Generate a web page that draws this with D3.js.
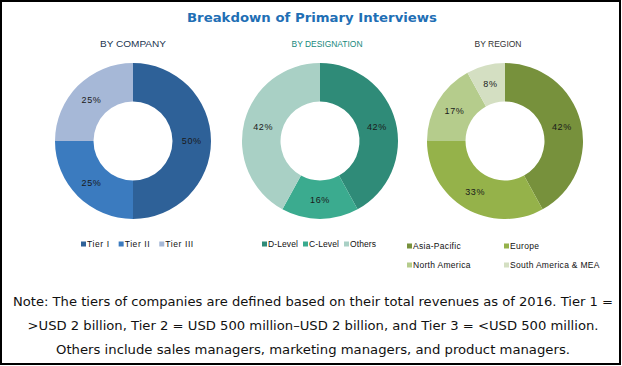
<!DOCTYPE html>
<html><head><meta charset="utf-8">
<script src="https://cdn.jsdelivr.net/npm/d3@7"></script>
<style>body{margin:0;background:#fff}svg{display:block}</style>
</head><body>
<svg id="c" width="622" height="366"></svg>
<script>
const title = "Breakdown of Primary Interviews";
const companyCats = ["Tier I", "Tier II", "Tier III"];
const companyVals = [50, 25, 25];
const designationCats = ["D-Level", "C-Level", "Others"];
const designationVals = [42, 16, 42];
const regionCats = ["Asia-Pacific", "Europe", "North America", "South America & MEA"];
const regionVals = [42, 33, 17, 8];
const noteLines = [
  "Note: The tiers of companies are defined based on their total revenues as of 2016. Tier 1 =",
  ">USD 2 billion, Tier 2 = USD 500 million\u2013USD 2 billion, and Tier 3 = <USD 500 million.",
  "Others include sales managers, marketing managers, and product managers."
];

const svg = d3.select("#c");
svg.append("rect").attr("x",1).attr("y",1).attr("width",619).attr("height",363)
  .attr("fill","#fff").attr("stroke","#000").attr("stroke-width",2);

svg.append("text").attr("x",312).attr("y",22).attr("text-anchor","middle")
  .attr("font-family","DejaVu Sans").attr("font-weight","bold").attr("font-size",12.5)
  .attr("fill","#1f6fb5").attr("textLength",250).attr("lengthAdjust","spacingAndGlyphs")
  .text(title);

const charts = [
  {sub:"BY COMPANY", subX:133, subW:66, subColor:"#22344f", cx:133, cats:companyCats, vals:companyVals,
   colors:["#2e6198","#3b7bbf","#a6b8d7"], legend:{x:81, y:244, cols:3, gap:9, ls:0.6}},
  {sub:"BY DESIGNATION", subX:327, subW:71, subColor:"#16887c", cx:320, cats:designationCats, vals:designationVals,
   colors:["#2f8b78","#3bab8f","#a9d0c5"], legend:{x:262, y:244, cols:3, gap:5, ls:0.1}},
  {sub:"BY REGION", subX:498, subW:47, subColor:"#333", cx:505, cats:regionCats, vals:regionVals,
   colors:["#77913c","#95b24a","#b5cc8c","#d4dfc2"], legend:{x:407, y:246, cols:2, colX:97, rowH:19, ls:0.3}}
];

const cy = 141, rOut = 78, rIn = 39.5;
const arc = d3.arc().innerRadius(rIn).outerRadius(rOut);
const labelArc = d3.arc().innerRadius((rIn+rOut)/2).outerRadius((rIn+rOut)/2);

charts.forEach(ch => {
  svg.append("text").attr("x",ch.subX).attr("y",47).attr("text-anchor","middle")
    .attr("font-family","Liberation Sans").attr("font-size",8.5).attr("fill",ch.subColor)
    .attr("textLength",ch.subW).attr("lengthAdjust","spacingAndGlyphs").text(ch.sub);
  const data = ch.cats.map((c,i)=>({cat:c, val:ch.vals[i], color:ch.colors[i]}));
  const pie = d3.pie().sort(null).value(d=>d.val);
  const arcs = pie(data);
  const g = svg.append("g").attr("transform",`translate(${ch.cx},${cy})`);
  g.selectAll("path").data(arcs).join("path").attr("d",arc).attr("fill",d=>d.data.color);
  g.selectAll("text").data(arcs).join("text")
    .attr("transform",d=>`translate(${labelArc.centroid(d)})`)
    .attr("text-anchor","middle").attr("dy","0.35em")
    .attr("font-family","Liberation Sans").attr("font-size",9).attr("fill","#1a1a1a")
    .attr("letter-spacing",0.6)
    .text(d=>d.data.val+"%");
  const L = ch.legend;
  let x = L.x;
  data.forEach((d,i)=>{
    let lx, ly;
    if (L.cols === 2) { lx = L.x + (i%2)*L.colX; ly = L.y + Math.floor(i/2)*L.rowH; }
    else { lx = x; ly = L.y; }
    svg.append("rect").attr("x",lx).attr("y",ly-2.5).attr("width",5).attr("height",5).attr("fill",d.color);
    const t = svg.append("text").attr("x",lx+6).attr("y",ly+3.2)
      .attr("font-family","Liberation Sans").attr("font-size",8.5).attr("fill","#111")
      .attr("letter-spacing",L.ls).text(d.cat);
    if (L.cols !== 2) x = lx + 6 + t.node().getComputedTextLength() + L.gap;
  });
});

const noteY = [306, 330, 354], noteW = [600, 571, 514];
noteLines.forEach((s,i)=>{
  svg.append("text").attr("x",313).attr("y",noteY[i]).attr("text-anchor","middle")
    .attr("font-family","DejaVu Sans").attr("font-size",12).attr("fill","#111")
    .attr("textLength",noteW[i]).attr("lengthAdjust","spacingAndGlyphs").text(s);
});
</script>
</body></html>
